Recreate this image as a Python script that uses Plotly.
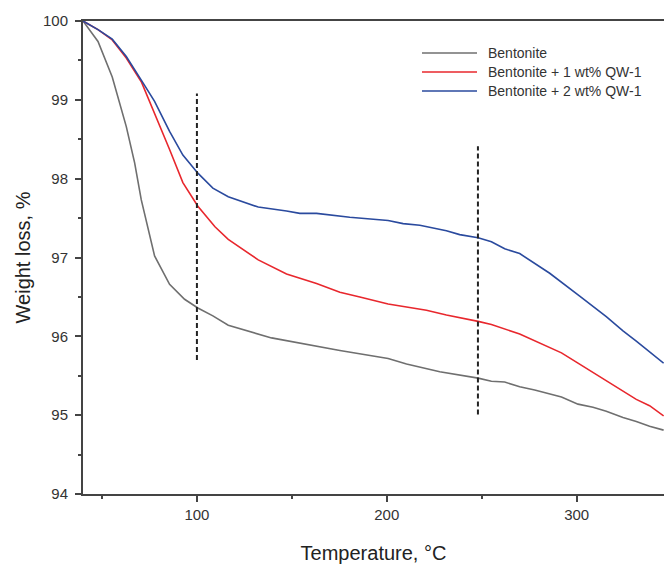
import plotly.graph_objects as go

# ---- data ----
t_bent = [40, 47.9, 55.4, 62.8, 67.2, 70.7, 77.7, 85.6, 93.5, 100.5, 108.4, 116.5, 139.3, 154.2,
          175.3, 200.7, 210.4, 227.9, 248.1, 255.1, 262.1, 270, 277.9, 292, 300.7, 308.6, 315.6,
          324.4, 331.4, 338.4, 345.8]
w_bent = [100, 99.74, 99.29, 98.66, 98.20, 97.73, 97.02, 96.66, 96.47, 96.36, 96.26, 96.14, 95.98, 95.91,
          95.82, 95.72, 95.65, 95.55, 95.47, 95.43, 95.42, 95.36, 95.32, 95.23, 95.14, 95.10, 95.05,
          94.97, 94.92, 94.86, 94.81]

t_qw1 = [40, 47.9, 55.4, 62.8, 70.7, 77.7, 85.6, 92.6, 100.5, 109.5, 116.5, 132.3, 147.2, 163.0,
         175.3, 185.8, 200.7, 220.9, 231.4, 248.1, 255.1, 270, 277.9, 292, 300.7, 315.6, 324.4,
         331.4, 338.4, 345.8]
w_qw1 = [100, 99.89, 99.76, 99.53, 99.23, 98.83, 98.37, 97.95, 97.65, 97.39, 97.23, 96.97, 96.79, 96.67,
         96.56, 96.50, 96.41, 96.33, 96.27, 96.19, 96.15, 96.03, 95.94, 95.79, 95.66, 95.44, 95.31,
         95.20, 95.12, 94.99]

t_qw2 = [40, 47.9, 55.4, 62.8, 70.7, 77.7, 85.6, 92.6, 100.5, 108.4, 116.5, 132.3, 147.2, 154.2, 163.0,
         180.5, 200.7, 208.6, 217.4, 231.4, 238.4, 248.1, 255.1, 262.1, 270, 285.8, 301.6, 315.6,
         324.4, 331.4, 345.8]
w_qw2 = [100, 99.89, 99.77, 99.55, 99.25, 98.98, 98.60, 98.30, 98.07, 97.88, 97.77, 97.64, 97.59, 97.56, 97.56,
         97.51, 97.47, 97.43, 97.41, 97.34, 97.29, 97.25, 97.20, 97.11, 97.05, 96.80, 96.51, 96.25,
         96.07, 95.94, 95.66]

series_names = ["Bentonite", "Bentonite + 1 wt% QW-1", "Bentonite + 2 wt% QW-1"]
series_colors = ["#6f6f6f", "#e8272d", "#2a4a9e"]

# dashed marker lines: temperature, lower and upper weight
dash_t = [100, 248]
dash_lo = [95.70, 95.01]
dash_hi = [99.08, 98.41]

x_ticks = [100, 200, 300]
y_ticks = [94, 95, 96, 97, 98, 99, 100]

# ---- figure ----
W, H = 664, 564
ml, mr, mt, mb = 83, 0, 21, 70

fig = go.Figure()
for t, w, name, col in zip([t_bent, t_qw1, t_qw2], [w_bent, w_qw1, w_qw2], series_names, series_colors):
    fig.add_trace(go.Scatter(x=t, y=w, mode="lines", name=name,
                             line=dict(color=col, width=1.6), showlegend=False))

for t, lo, hi in zip(dash_t, dash_lo, dash_hi):
    fig.add_trace(go.Scatter(x=[t, t], y=[lo, hi], mode="lines", showlegend=False,
                             line=dict(color="#222222", width=2, dash="5px,3px")))

# manual legend (paper coords)
pw, ph = W - ml - mr, H - mt - mb
def px_x(px):
    return (px - ml) / pw
def px_y(py):
    return (H - mb - py) / ph

legend_rows = [53, 72, 91]
for name, col, ry in zip(series_names, series_colors, legend_rows):
    fig.add_shape(type="line", xref="paper", yref="paper",
                  x0=px_x(422), x1=px_x(477), y0=px_y(ry), y1=px_y(ry),
                  line=dict(color=col, width=1.6))
    fig.add_annotation(xref="paper", yref="paper", x=px_x(486), y=px_y(ry),
                       text=name, showarrow=False, xanchor="left", yanchor="middle",
                       font=dict(size=14, color="#333333", family="Liberation Sans, Arial, sans-serif"))

axis_col = "#444444"
fig.update_layout(
    width=W, height=H,
    margin=dict(l=ml, r=mr, t=mt, b=mb),
    paper_bgcolor="white", plot_bgcolor="white",
    font=dict(family="Liberation Sans, Arial, sans-serif", color="#333333", size=14),
    showlegend=False,
)
fig.update_xaxes(
    range=[40, 346], tickvals=x_ticks, ticks="outside", ticklen=6, tickwidth=1.5,
    tickcolor=axis_col, showline=True, linecolor=axis_col, linewidth=2, mirror=True,
    showgrid=False, zeroline=False,
    minor=dict(dtick=50, tick0=0, ticks="outside", ticklen=3, tickwidth=1.5, tickcolor=axis_col),
    tickfont=dict(size=15, color="#333333"),
    title=dict(text="Temperature, °C", font=dict(size=20, color="#222222"), standoff=25),
)
fig.update_yaxes(
    range=[94, 100], tickvals=y_ticks, ticks="outside", ticklen=6, tickwidth=1.5,
    tickcolor=axis_col, showline=True, linecolor=axis_col, linewidth=2,
    showgrid=False, zeroline=False, ticklabelstandoff=4,
    minor=dict(dtick=0.5, tick0=94, ticks="outside", ticklen=3, tickwidth=1.5, tickcolor=axis_col),
    tickfont=dict(size=15, color="#333333"),
    title=dict(text="Weight loss, %", font=dict(size=20, color="#222222"), standoff=7),
)

fig.write_html("out.html")
